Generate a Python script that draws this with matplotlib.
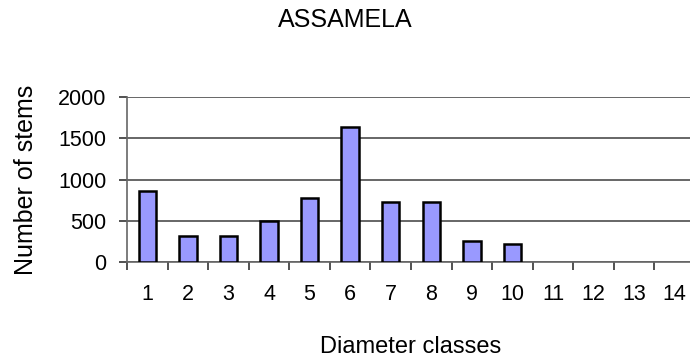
import matplotlib
matplotlib.use("Agg")
import matplotlib.pyplot as plt
import numpy as np

plt.rcParams['font.family'] = ['Liberation Sans', 'DejaVu Sans']

# diameter classes and stem counts
classes = [str(i) for i in range(1, 15)]
stems = [865, 310, 310, 500, 780, 1635, 722, 722, 252, 222, 0, 0, 0, 0]

fig = plt.figure(figsize=(6.9, 3.6), dpi=100)
# plot area runs slightly past the right edge, as in the original export
ax = fig.add_axes([127 / 690, 98 / 360, 568 / 690, 165 / 360])

x = np.arange(len(classes))
bars = ax.bar(x, stems, width=0.43, color='#9999FF', edgecolor='black', linewidth=1.8, zorder=3)
for b, v in zip(bars, stems):
    if v == 0:
        b.set_linewidth(0)

ax.set_xlim(-0.5, len(classes) - 0.5)
ax.set_ylim(0, 2000)
ax.set_yticks([0, 500, 1000, 1500, 2000])
ax.yaxis.grid(True, color='#4d4d4d', linewidth=1.2, zorder=0)

ax.set_xticks(x)
ax.set_xticklabels(classes)
ax.set_xticks(np.arange(len(classes) + 1) - 0.5, minor=True)
ax.tick_params(axis='x', which='major', length=0, pad=16, labelsize=15.5)
ax.tick_params(axis='x', which='minor', length=6, width=1.2, color='#333333')
ax.tick_params(axis='y', length=6, width=1.2, color='#333333', labelsize=15.5, pad=9)

for side in ['top', 'right']:
    ax.spines[side].set_visible(False)
for side in ['left', 'bottom']:
    ax.spines[side].set_color('#666666')
    ax.spines[side].set_linewidth(1.2)

fig.text(0.5, 1 - 27 / 360, 'ASSAMELA', fontsize=18, ha='center', va='baseline')
ax.set_xlabel('Diameter classes', fontsize=17, labelpad=22)
ax.set_ylabel('Number of stems', fontsize=18, labelpad=14)

fig.savefig('out.png', dpi=100)
